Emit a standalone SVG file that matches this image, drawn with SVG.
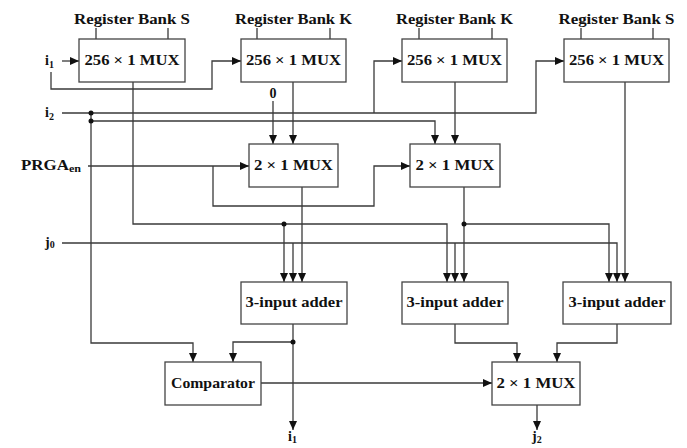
<svg xmlns="http://www.w3.org/2000/svg" width="687" height="448" viewBox="0 0 687 448">
<style>
text{font-family:"Liberation Serif","DejaVu Serif",serif;font-weight:bold;font-size:14px;fill:#111}
.box{fill:#fff;stroke:#444;stroke-width:1.3}
.c{text-anchor:middle}
.w{fill:none;stroke:#3a3a3a;stroke-width:1.3}
.a{marker-end:url(#ah)}
.sub{font-size:10px}
.dot{fill:#111}
</style>
<defs>
<marker id="ah" markerUnits="userSpaceOnUse" markerWidth="10" markerHeight="8" refX="9" refY="4" orient="auto">
<path d="M0,0 L9,4 L0,8 z" fill="#111"/>
</marker>
</defs>
<g id="connectors">
<path class="w a" d="M62,61 H79"/>
<path class="w a" d="M51,72 V89 H212 V61 H241"/>
<path class="w a" d="M62,113 H536 V61 H564"/>
<path class="w a" d="M374,113 V61 H402"/>
<path class="w a" d="M91,113 V343 H193 V362"/>
<path class="w a" d="M91,121 H435 V144"/>
<path class="w a" d="M273,101 V144"/>
<path class="w a" d="M293,82 V144"/>
<path class="w a" d="M455,82 V144"/>
<path class="w a" d="M625,82 V282"/>
<path class="w a" d="M133,82 V224 H447 V282"/>
<path class="w a" d="M284,224 V282"/>
<path class="w a" d="M88,166 H249"/>
<path class="w a" d="M213,166 V206 H374 V166 H410"/>
<path class="w a" d="M302,187 V282"/>
<path class="w a" d="M464,187 V282"/>
<path class="w a" d="M464,224 H609 V282"/>
<path class="w a" d="M62,243 H617 V282"/>
<path class="w a" d="M293,243 V282"/>
<path class="w a" d="M455,243 V282"/>
<path class="w a" d="M293,324 V430"/>
<path class="w a" d="M293,342 H233 V362"/>
<path class="w a" d="M261,383 H492"/>
<path class="w a" d="M455,324 V343 H517 V362"/>
<path class="w a" d="M617,324 V343 H557 V362"/>
<path class="w a" d="M537,405 V430"/>
<path class="w" d="M96,28 V39 M168,28 V39 M257,28 V39 M330,28 V39 M419,28 V39 M492,28 V39 M581,28 V39 M653,28 V39"/>
<circle class="dot" cx="91" cy="113" r="2.5"/>
<circle class="dot" cx="91" cy="121" r="2.5"/>
<circle class="dot" cx="284" cy="224" r="2.5"/>
<circle class="dot" cx="464" cy="224" r="2.5"/>
<circle class="dot" cx="293" cy="342" r="2.5"/>
</g>
<g id="labels">
<text x="132" y="24" class="c" textLength="116" lengthAdjust="spacingAndGlyphs">Register Bank S</text>
<text x="293.5" y="24" class="c" textLength="117" lengthAdjust="spacingAndGlyphs">Register Bank K</text>
<text x="454.5" y="24" class="c" textLength="117" lengthAdjust="spacingAndGlyphs">Register Bank K</text>
<text x="616.5" y="24" class="c" textLength="116" lengthAdjust="spacingAndGlyphs">Register Bank S</text>
<text x="45" y="65">i<tspan class="sub" dy="3">1</tspan></text>
<text x="45" y="117">i<tspan class="sub" dy="3">2</tspan></text>
<text x="21" y="170" textLength="60" lengthAdjust="spacingAndGlyphs">PRGA<tspan class="sub" dy="2">en</tspan></text>
<text x="45" y="247">j<tspan class="sub" dy="1">0</tspan></text>
<text x="273" y="98" class="c">0</text>
<text x="288" y="441">i<tspan class="sub" dy="2">1</tspan></text>
<text x="532" y="441">j<tspan class="sub" dy="2">2</tspan></text>
</g>
<g id="mux256-1"><rect class="box" x="79" y="39" width="106" height="43"/><text x="132" y="65" class="c" textLength="95" lengthAdjust="spacingAndGlyphs">256 × 1 MUX</text></g>
<g id="mux256-2"><rect class="box" x="241" y="39" width="105" height="43"/><text x="293.5" y="65" class="c" textLength="95" lengthAdjust="spacingAndGlyphs">256 × 1 MUX</text></g>
<g id="mux256-3"><rect class="box" x="402" y="39" width="105" height="43"/><text x="454.5" y="65" class="c" textLength="95" lengthAdjust="spacingAndGlyphs">256 × 1 MUX</text></g>
<g id="mux256-4"><rect class="box" x="564" y="39" width="105" height="43"/><text x="616.5" y="65" class="c" textLength="95" lengthAdjust="spacingAndGlyphs">256 × 1 MUX</text></g>
<g id="mux2-a"><rect class="box" x="249" y="144" width="89" height="43"/><text x="293.5" y="170" class="c" textLength="79" lengthAdjust="spacingAndGlyphs">2 × 1 MUX</text></g>
<g id="mux2-b"><rect class="box" x="410" y="144" width="90" height="43"/><text x="455" y="170" class="c" textLength="79" lengthAdjust="spacingAndGlyphs">2 × 1 MUX</text></g>
<g id="adder-1"><rect class="box" x="241" y="282" width="106" height="42"/><text x="294" y="307" class="c" textLength="97" lengthAdjust="spacingAndGlyphs">3-input adder</text></g>
<g id="adder-2"><rect class="box" x="402" y="282" width="106" height="42"/><text x="455" y="307" class="c" textLength="97" lengthAdjust="spacingAndGlyphs">3-input adder</text></g>
<g id="adder-3"><rect class="box" x="563" y="282" width="108" height="42"/><text x="617" y="307" class="c" textLength="97" lengthAdjust="spacingAndGlyphs">3-input adder</text></g>
<g id="comparator"><rect class="box" x="165" y="362" width="96" height="43"/><text x="213" y="388" class="c" textLength="84" lengthAdjust="spacingAndGlyphs">Comparator</text></g>
<g id="mux2-c"><rect class="box" x="492" y="362" width="88" height="43"/><text x="536" y="388" class="c" textLength="79" lengthAdjust="spacingAndGlyphs">2 × 1 MUX</text></g>
</svg>
